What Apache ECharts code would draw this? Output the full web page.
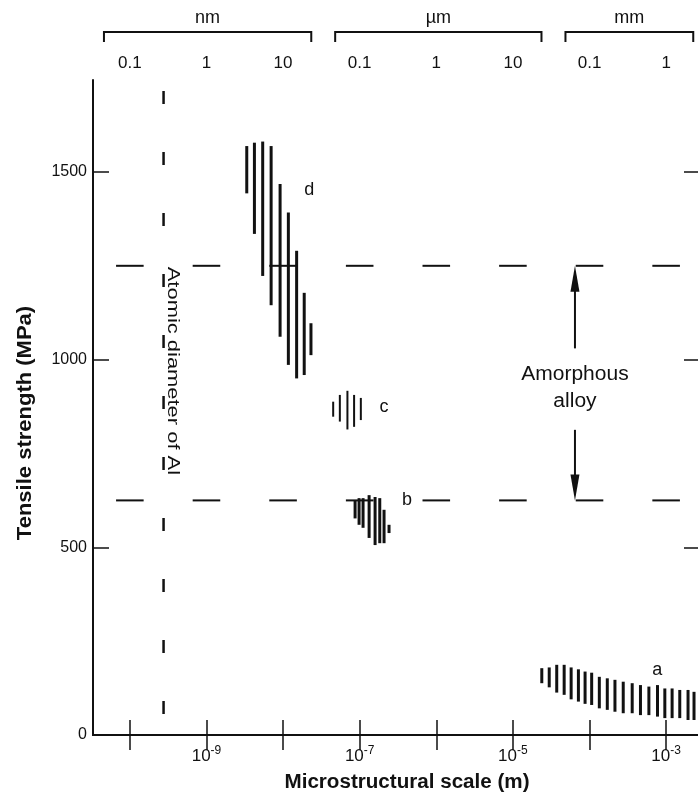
<!DOCTYPE html>
<html><head><meta charset="utf-8">
<script src="https://cdn.jsdelivr.net/npm/echarts@6/dist/echarts.min.js"></script>
<style>html,body{margin:0;padding:0;background:#fff}#c{width:698px;height:801px}</style>
</head><body><div id="c"></div>
<script>
// x values are log10 of the microstructural scale in metres
const xMin = -10.481, xMax = -2.584;
const xTickExps = [-10, -9, -8, -7, -6, -5, -4, -3];
const xLabelExps = [-9, -7, -5, -3];
const topTickLabels = ['0.1', '1', '10', '0.1', '1', '10', '0.1', '1'];
const unitNames = ['nm', '\u00b5m', 'mm'];
const unitFrom = [-10.338, -7.32, -4.314];
const unitTo = [-7.632, -4.627, -2.646];
const yMax = 1745;
const yTicks = [0, 500, 1000, 1500];
const yRightTicks = [500, 1000, 1500];
const xTitle = 'Microstructural scale (m)';
const yTitle = 'Tensile strength (MPa)';

// series d
const dExp = [-8.474, -8.374, -8.266, -8.156, -8.039, -7.931, -7.823, -7.724, -7.636];
const dTop = [1569, 1578, 1581, 1569, 1468, 1392, 1290, 1178, 1097];
const dBottom = [1443, 1335, 1223, 1145, 1061, 986, 950, 959, 1012];
// series c
const cExp = [-7.346, -7.259, -7.160, -7.073, -6.985];
const cTop = [888, 906, 917, 906, 898];
const cBottom = [848, 835, 814, 821, 839];
// series b
const bExp = [-7.060, -7.008, -6.956, -6.877, -6.799, -6.738, -6.682, -6.617];
const bTop = [626, 631, 631, 639, 634, 631, 600, 560];
const bBottom = [577, 560, 552, 525, 506, 511, 511, 538];
// series a
const aExp = [-4.623, -4.526, -4.428, -4.331, -4.240, -4.145, -4.058, -3.972, -3.872, -3.768, -3.668, -3.560, -3.443, -3.335, -3.225, -3.113, -3.017, -2.922, -2.822, -2.714, -2.636];
const aTop = [178, 180, 187, 187, 180, 175, 169, 166, 155, 151, 147, 142, 138, 133, 129, 133, 124, 124, 120, 120, 115];
const aBottom = [138, 127, 113, 107, 95, 89, 83, 80, 71, 67, 62, 58, 58, 53, 53, 49, 45, 45, 45, 40, 40];

// amorphous alloy band
const amorphousLevels = [1250, 625];
const amorphousArrowExp = -4.19;
const arrowUp = [1030, 1250];
const arrowDown = [813, 625];
// atomic diameter of Al
const atomicExp = -9.56;
const atomicRange = [1716, 48];

// text labels
const labelTexts = ['a', 'b', 'c', 'd'];
const labelExp = [-3.117, -6.383, -6.682, -7.658];
const labelVal = [173, 626, 874, 1452];
const amorphousLabel = 'Amorphous\nalloy';
const amorphousLabelPos = [-4.19, 925];
const atomicLabel = 'Atomic diameter of Al';
const atomicLabelPos = [-9.44, 970];

const INK = '#111';
const FONT = '"Liberation Sans", Arial, Helvetica, sans-serif';

function zip3(x, t, b) { return x.map((v, i) => [v, t[i], b[i]]); }

function barRender(width) {
  return function (params, api) {
    const x = api.value(0);
    const p1 = api.coord([x, api.value(1)]);
    const p2 = api.coord([x, api.value(2)]);
    return { type: 'line', shape: { x1: p1[0], y1: p1[1], x2: p2[0], y2: p2[1] },
      style: { stroke: INK, lineWidth: width, lineCap: 'butt' } };
  };
}

function barSeries(name, data, width) {
  return { type: 'custom', name: name, renderItem: barRender(width), data: data,
    encode: { x: 0, y: [1, 2] }, silent: true, animation: false, xAxisIndex: 0, yAxisIndex: 0 };
}

function textSeries(name, text, pos, opts) {
  return {
    type: 'custom', name: name, silent: true, data: [pos],
    renderItem: function (params, api) {
      const p = api.coord([api.value(0), api.value(1)]);
      return { type: 'text', x: p[0], y: p[1], rotation: opts.rotation || 0, scaleX: opts.scaleX || 1,
        style: { text: text, fontSize: opts.fontSize, fontFamily: FONT, fill: INK,
          align: 'center', verticalAlign: 'middle', lineHeight: opts.lineHeight } };
    }
  };
}

const dashData = [];
amorphousLevels.forEach(l => xTickExps.forEach(e => dashData.push([e, l])));

const chart = echarts.init(document.getElementById('c'), null, { renderer: 'canvas' });

const option = {
  backgroundColor: '#fff',
  animation: false,
  textStyle: { fontFamily: FONT, color: INK },
  grid: { left: 93, top: 80, bottom: 66, right: -2 },
  graphic: [
    { type: 'text', x: 407, y: 782, scaleX: 1.03, silent: true,
      style: { text: xTitle, fontSize: 20, fontWeight: 'bold', fontFamily: FONT, fill: INK, align: 'center', verticalAlign: 'middle' } },
    { type: 'text', x: 25, y: 423, rotation: Math.PI / 2, scaleX: 1.1, silent: true,
      style: { text: yTitle, fontSize: 20, fontWeight: 'bold', fontFamily: FONT, fill: INK, align: 'center', verticalAlign: 'middle' } }
  ],
  xAxis: [{
    type: 'value', position: 'bottom', min: xMin, max: xMax,
    splitLine: { show: false },
    axisLine: { show: true, lineStyle: { color: INK, width: 2 } },
    axisTick: { show: true, inside: true, length: 15, customValues: xTickExps, lineStyle: { color: INK, width: 1.5 } },
    axisLabel: {
      customValues: xLabelExps, margin: 10, color: INK, fontFamily: FONT,
      formatter: v => '{b|10}{s|' + Math.round(v) + '}',
      rich: {
        b: { fontSize: 17, fontFamily: FONT, color: INK, lineHeight: 22 },
        s: { fontSize: 12, fontFamily: FONT, color: INK, verticalAlign: 'top', lineHeight: 12 }
      }
    }
  }, {
    type: 'value', position: 'top', min: xMin, max: xMax,
    splitLine: { show: false },
    axisLine: { show: true, lineStyle: { color: INK, width: 2 } },
    axisTick: { show: true, inside: true, length: 15, customValues: xTickExps, lineStyle: { color: INK, width: 1.5 } },
    axisLabel: {
      customValues: xTickExps, margin: 8, fontSize: 17, color: INK, fontFamily: FONT,
      formatter: v => topTickLabels[xTickExps.indexOf(Math.round(v))] || ''
    }
  }],
  yAxis: [{
    type: 'value', position: 'left', min: 0, max: yMax,
    splitLine: { show: false },
    axisLine: { show: true, lineStyle: { color: INK, width: 2 } },
    axisTick: { show: true, inside: true, length: 16, customValues: yTicks, lineStyle: { color: INK, width: 1.5 } },
    axisLabel: { customValues: yTicks, margin: 6, fontSize: 16, color: INK, fontFamily: FONT,
      formatter: v => String(Math.round(v)) }
  }, {
    type: 'value', position: 'right', min: 0, max: yMax,
    splitLine: { show: false },
    axisLine: { show: false },
    axisTick: { show: true, inside: true, length: 14, customValues: yRightTicks, lineStyle: { color: INK, width: 1.5 } },
    axisLabel: { show: false }
  }],
  series: [
    barSeries('d', zip3(dExp, dTop, dBottom), 3),
    barSeries('c', zip3(cExp, cTop, cBottom), 2),
    barSeries('b', zip3(bExp, bTop, bBottom), 3),
    barSeries('a', zip3(aExp, aTop, aBottom), 3),
    { // amorphous alloy dashed limits
      type: 'custom', name: 'limits', silent: true, data: dashData,
      renderItem: function (params, api) {
        const c = api.value(0), l = api.value(1);
        const p1 = api.coord([c - 0.18, l]);
        const p2 = api.coord([c + 0.18, l]);
        return { type: 'line', shape: { x1: p1[0], y1: p1[1], x2: p2[0], y2: p2[1] },
          style: { stroke: INK, lineWidth: 2 } };
      }
    },
    { // atomic diameter dashed line
      type: 'line', name: 'atomic', silent: true, symbol: 'none',
      data: [[atomicExp, atomicRange[0]], [atomicExp, atomicRange[1]]],
      lineStyle: { color: INK, width: 2.5, type: [13, 48] }
    },
    { // arrows
      type: 'custom', name: 'arrows', silent: true,
      data: [[amorphousArrowExp, arrowUp[0], arrowUp[1]], [amorphousArrowExp, arrowDown[0], arrowDown[1]]],
      renderItem: function (params, api) {
        const x = api.value(0);
        const p1 = api.coord([x, api.value(1)]);
        const p2 = api.coord([x, api.value(2)]);
        const dir = p2[1] < p1[1] ? -1 : 1;
        const headLen = 26, headHalf = 4.5;
        const base = p2[1] - dir * headLen;
        return { type: 'group', children: [
          { type: 'line', shape: { x1: p1[0], y1: p1[1], x2: p2[0], y2: base + dir * 2 },
            style: { stroke: INK, lineWidth: 2 } },
          { type: 'polygon', shape: { points: [[p2[0], p2[1]], [p2[0] - headHalf, base], [p2[0] + headHalf, base]] },
            style: { fill: INK } }
        ] };
      }
    },
    { // series letters
      type: 'custom', name: 'labels', silent: true,
      data: labelExp.map((e, i) => [e, labelVal[i]]),
      renderItem: function (params, api) {
        const p = api.coord([api.value(0), api.value(1)]);
        return { type: 'text', x: p[0], y: p[1],
          style: { text: labelTexts[params.dataIndex], fontSize: 18, fontFamily: FONT, fill: INK,
            align: 'center', verticalAlign: 'middle' } };
      }
    },
    textSeries('amorphousLabel', amorphousLabel, amorphousLabelPos, { fontSize: 20, scaleX: 1.05, lineHeight: 27 }),
    textSeries('atomicLabel', atomicLabel, atomicLabelPos, { fontSize: 16, scaleX: 1.37, rotation: -Math.PI / 2 }),
    { // unit brackets above top axis
      type: 'custom', name: 'units', silent: true, clip: false,
      data: unitFrom.map((f, i) => [f, unitTo[i]]),
      renderItem: function (params, api) {
        const top = params.coordSys.y;
        const x1 = api.coord([api.value(0), 0])[0];
        const x2 = api.coord([api.value(1), 0])[0];
        const yb = top - 48, ye = top - 38;
        return { type: 'group', children: [
          { type: 'polyline', shape: { points: [[x1, ye], [x1, yb], [x2, yb], [x2, ye]] },
            style: { stroke: INK, lineWidth: 2, fill: null } },
          { type: 'text', x: (x1 + x2) / 2, y: top - 62,
            style: { text: unitNames[params.dataIndex], fontSize: 18, fontFamily: FONT, fill: INK,
              align: 'center', verticalAlign: 'middle' } }
        ] };
      }
    }
  ]
};
chart.setOption(option);
</script></body></html>
